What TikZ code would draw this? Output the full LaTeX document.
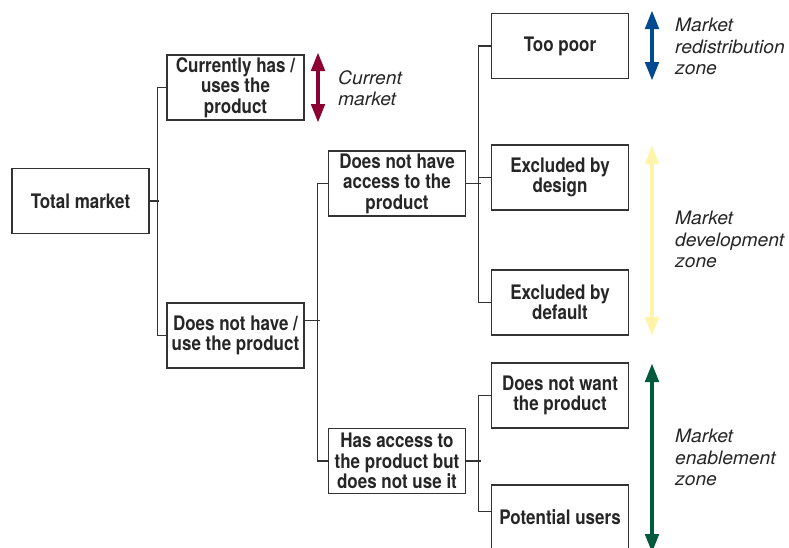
\documentclass[tikz,border=0pt]{standalone}
\usepackage{fontspec}
\setmainfont{TeX Gyre Heros}
\newfontfamily\condfont[FakeStretch=0.85]{TeX Gyre Heros}
\newfontfamily\wideit[FakeStretch=1.04]{TeX Gyre Heros}
\usetikzlibrary{arrows.meta}
\definecolor{txt}{HTML}{262626}
\definecolor{ln}{HTML}{333333}
\definecolor{zred}{HTML}{8C0033}
\definecolor{zblue}{HTML}{004A8F}
\definecolor{zyellow}{HTML}{FFF4A8}
\definecolor{zgreen}{HTML}{005A3C}
\tikzset{
  box/.style={draw=ln, line width=1.2pt, minimum width=137pt, minimum height=65pt,
    inner sep=0pt, align=center, text=txt,
    font=\condfont\bfseries\fontsize{20}{20.5}\selectfont},
  link/.style={draw=ln, line width=1.1pt},
  zarrow/.style={line width=4.5pt, {Triangle[length=19pt,width=13pt]}-{Triangle[length=19pt,width=13pt]}},
  zlabel/.style={anchor=north west, align=left, inner sep=0pt, text=txt,
    font=\wideit\itshape\fontsize{18.5}{21.5}\selectfont}
}
\begin{document}
\begin{tikzpicture}[x=1pt,y=-1pt]
\useasboundingbox (0,0) rectangle (789,547);
\clip (0,0) rectangle (789,547);
\fill[white] (0,0) rectangle (789,547);
% boxes
\node[box] (total) at (80.5,201) {Total market};
\node[box] (cur) at (235.5,87.5) {Currently has /\\uses the\\product};
\node[box] (notuse) at (235.5,335.5) {Does not have /\\use the product};
\node[box] (noacc) at (397,183.5) {Does not have\\access to the\\product};
\node[box] (hasacc) at (397,461) {Has access to\\the product but\\does not use it};
\node[box] (poor) at (560,46) {Too poor};
\node[box] (design) at (560,177.5) {Excluded by\\design};
\node[box] (default) at (560,302.5) {Excluded by\\default};
\node[box] (nowant) at (560,395.5) {Does not want\\the product};
\node[box] (potential) at (560,517.5) {Potential users};
% connectors
\draw[link] (total.east) -- ++(9,0);
\draw[link] (cur.west) -- ++(-9,0) |- (notuse.west);
\draw[link] ([yshift=15pt]notuse.east) -- ++(15,0);
\draw[link] (noacc.west) -- ++(-10,0) |- (hasacc.west);
\draw[link] (noacc.east) -- ++(15,0);
\draw[link] (poor.west) -- ++(-12,0) |- (default.west);
\draw[link] (design.west) -- ++(-12,0);
\draw[link] (hasacc.east) -- ++(15,0);
\draw[link] (nowant.west) -- ++(-12,0) |- ([yshift=6pt]potential.west);
% zone arrows
\coordinate (r1) at (318,52); \coordinate (r2) at (318,123);
\coordinate (b1) at (652,10); \coordinate (b2) at (652,81);
\coordinate (y1) at (652,145); \coordinate (y2) at (652,336);
\coordinate (g1) at (652,363); \coordinate (g2) at (652,553);
\draw[zarrow, zred] (r1) -- (r2);
\draw[zarrow, zblue] (b1) -- (b2);
\draw[zarrow, zyellow] (y1) -- (y2);
\draw[zarrow, zgreen] (g1) -- (g2);
% labels
\node[zlabel] (lcur) at (338,70) {Current\\market};
\node[zlabel] (lred) at (675,18) {Market\\redistribution\\zone};
\node[zlabel] (ldev) at (675,211) {Market\\development\\zone};
\node[zlabel] (lena) at (675,429) {Market\\enablement\\zone};
\end{tikzpicture}
\end{document}
